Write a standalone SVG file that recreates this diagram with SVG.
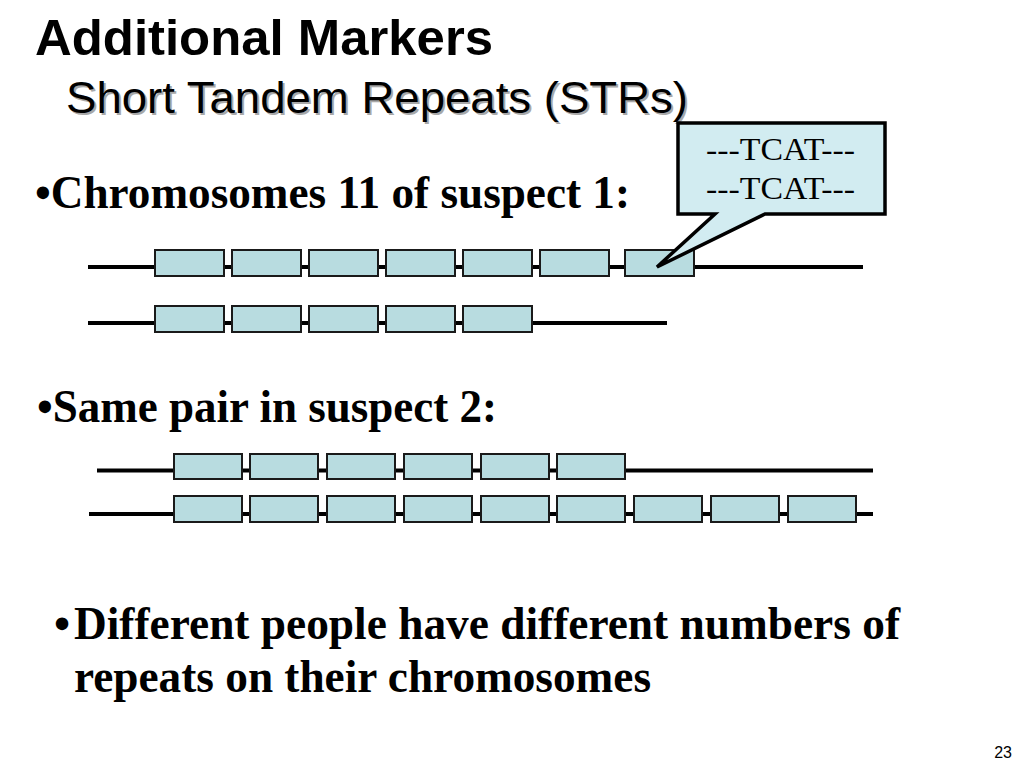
<svg xmlns="http://www.w3.org/2000/svg" width="1024" height="768" viewBox="0 0 1024 768">
<defs>
<style>
.title{font-family:"Liberation Sans",Arial,sans-serif;font-weight:bold;font-size:50px;fill:#000}
.sub{font-family:"Liberation Sans",Arial,sans-serif;font-size:45px}
.body{font-family:"Liberation Serif","Times New Roman",serif;font-weight:bold;font-size:46px;fill:#000}
.call{font-family:"Liberation Serif","Times New Roman",serif;font-size:32px;fill:#000}
.pg{font-family:"Liberation Sans",Arial,sans-serif;font-size:16px;fill:#000}
.strand{stroke:#000;stroke-width:4;fill:none}
.rep{fill:#B8DCE0;stroke:#1a1a1a;stroke-width:2}
</style>
</defs>
<rect width="1024" height="768" fill="#fff"/>

<text class="title" x="35" y="55" textLength="458" lengthAdjust="spacingAndGlyphs">Additional Markers</text>
<text class="sub" x="68" y="115" fill="#a8a8a8" textLength="622" lengthAdjust="spacingAndGlyphs">Short Tandem Repeats (STRs)</text>
<text class="sub" x="66" y="113" fill="#000" textLength="622" lengthAdjust="spacingAndGlyphs">Short Tandem Repeats (STRs)</text>

<text class="body" x="35" y="208" textLength="595" lengthAdjust="spacingAndGlyphs">•Chromosomes 11 of suspect 1:</text>
<text class="body" x="37" y="422" textLength="460" lengthAdjust="spacingAndGlyphs">•Same pair in suspect 2:</text>
<text class="body" x="54" y="639">•</text>
<text class="body" x="74" y="639" textLength="826" lengthAdjust="spacingAndGlyphs">Different people have different numbers of</text>
<text class="body" x="74" y="692" textLength="577" lengthAdjust="spacingAndGlyphs">repeats on their chromosomes</text>

<g id="connectors">
<line class="strand" x1="88" y1="267" x2="863" y2="267"/>
<line class="strand" x1="88" y1="323" x2="667" y2="323"/>
<line class="strand" x1="97" y1="470.5" x2="873" y2="470.5"/>
<line class="strand" x1="89" y1="514" x2="873" y2="514"/>
</g>

<g id="s1-chr-a">
<rect class="rep" x="155" y="250" width="69" height="26"/>
<rect class="rep" x="232" y="250" width="69" height="26"/>
<rect class="rep" x="309" y="250" width="69" height="26"/>
<rect class="rep" x="386" y="250" width="69" height="26"/>
<rect class="rep" x="463" y="250" width="69" height="26"/>
<rect class="rep" x="540" y="250" width="69" height="26"/>
<rect class="rep" x="625" y="250" width="69" height="26"/>
</g>
<g id="s1-chr-b">
<rect class="rep" x="155" y="306" width="69" height="26"/>
<rect class="rep" x="232" y="306" width="69" height="26"/>
<rect class="rep" x="309" y="306" width="69" height="26"/>
<rect class="rep" x="386" y="306" width="69" height="26"/>
<rect class="rep" x="463" y="306" width="69" height="26"/>
</g>
<g id="s2-chr-a">
<rect class="rep" x="174" y="454" width="68" height="25"/>
<rect class="rep" x="250" y="454" width="68" height="25"/>
<rect class="rep" x="327" y="454" width="68" height="25"/>
<rect class="rep" x="404" y="454" width="68" height="25"/>
<rect class="rep" x="481" y="454" width="68" height="25"/>
<rect class="rep" x="557" y="454" width="68" height="25"/>
</g>
<g id="s2-chr-b">
<rect class="rep" x="174" y="496" width="68" height="26"/>
<rect class="rep" x="250" y="496" width="68" height="26"/>
<rect class="rep" x="327" y="496" width="68" height="26"/>
<rect class="rep" x="404" y="496" width="68" height="26"/>
<rect class="rep" x="481" y="496" width="68" height="26"/>
<rect class="rep" x="557" y="496" width="68" height="26"/>
<rect class="rep" x="634" y="496" width="68" height="26"/>
<rect class="rep" x="711" y="496" width="68" height="26"/>
<rect class="rep" x="788" y="496" width="68" height="26"/>
</g>

<g id="callout">
<path d="M678,123 H885 V214 H765 L657,267 L715,214 H678 Z" fill="#D2ECF1" stroke="#000" stroke-width="3.5" stroke-linejoin="miter"/>
<text class="call" x="706" y="160" textLength="149" lengthAdjust="spacingAndGlyphs">---TCAT---</text>
<text class="call" x="706" y="199" textLength="149" lengthAdjust="spacingAndGlyphs">---TCAT---</text>
</g>

<text class="pg" x="1012" y="758" text-anchor="end">23</text>
</svg>
